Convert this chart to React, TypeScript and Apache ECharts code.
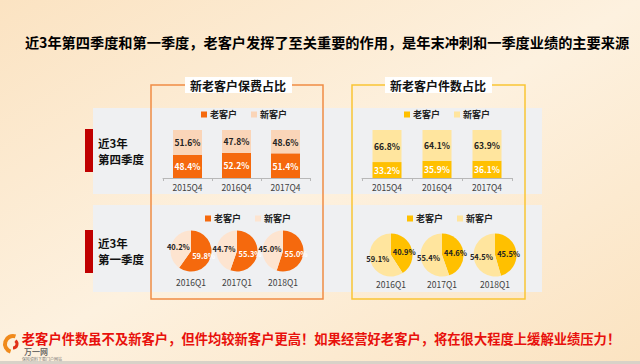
import React, { useEffect, useRef } from "react";
import * as echarts from "echarts";

const quartersQ4 = ["2015Q4", "2016Q4", "2017Q4"];
const premiumOldQ4 = [48.4, 52.2, 51.4];
const premiumNewQ4 = [51.6, 47.8, 48.6];
const countOldQ4 = [33.2, 35.9, 36.1];
const countNewQ4 = [66.8, 64.1, 63.9];

const quartersQ1 = ["2016Q1", "2017Q1", "2018Q1"];
const premiumOldQ1 = [59.8, 55.3, 55.0];
const premiumNewQ1 = [40.2, 44.7, 45.0];
const countOldQ1 = [40.9, 44.6, 45.5];
const countNewQ1 = [59.1, 55.4, 54.5];

const seriesNames = ["老客户", "新客户"];
const mainTitle = "近3年第四季度和第一季度，老客户发挥了至关重要的作用，是年末冲刺和一季度业绩的主要来源";
const footText = "老客户件数虽不及新客户，但件均较新客户更高！如果经营好老客户，将在很大程度上缓解业绩压力！";
const panelTitles = ["新老客户保费占比", "新老客户件数占比"];
const rowLabels = [["近3年", "第四季度"], ["近3年", "第一季度"]];

const FONT = '"Noto Sans CJK SC", "Noto Sans", sans-serif';
const ORANGE = "#F5690D";
const PEACH = "#FAD5B8";
const PEACH_PIE = "#FDE4D0";
const GOLD = "#FFC000";
const LIGHT_GOLD = "#FFE59E";
const pct = (v: number) => v.toFixed(1) + "%";

export default function App() {
  const ref = useRef<HTMLDivElement>(null);
  useEffect(() => {
    if (!ref.current) return;
    const chart = echarts.init(ref.current, null, { renderer: "svg" });

    const barGrid = (i: number) => ({
      type: "category",
      gridIndex: i,
      data: quartersQ4,
      axisLine: { lineStyle: { color: "#b8b8b8" } },
      axisTick: { show: true, length: 3, lineStyle: { color: "#b8b8b8" } },
      axisLabel: { fontSize: 8.5, color: "#404040", margin: 5, fontFamily: FONT },
    });
    const valAxis = (i: number) => ({
      type: "value",
      gridIndex: i,
      min: 0,
      max: 100,
      show: false,
    });
    const barLabel = (color: string) => ({
      show: true,
      position: "inside",
      color,
      fontSize: 8.5,
      fontWeight: "bold",
      fontFamily: FONT,
      formatter: (p: any) => pct(p.value),
    });
    const barSeries = (i: number, old: number[], nw: number[], c1: string, c2: string) => [
      {
        type: "bar",
        name: seriesNames[0],
        xAxisIndex: i,
        yAxisIndex: i,
        stack: "s" + i,
        data: old,
        barWidth: 29,
        itemStyle: { color: c1 },
        label: barLabel("#ffffff"),
      },
      {
        type: "bar",
        name: seriesNames[1],
        xAxisIndex: i,
        yAxisIndex: i,
        stack: "s" + i,
        data: nw,
        barWidth: 29,
        itemStyle: { color: c2 },
        label: barLabel("#222222"),
      },
    ];

    const pieSeries = (
      centers: number[][],
      r: number,
      old: number[],
      nw: number[],
      c1: string,
      c2: string,
      oldLabelColor: string
    ) =>
      old.map((v, k) => ({
        type: "pie",
        center: centers[k],
        radius: r,
        startAngle: 90,
        clockwise: true,
        silent: true,
        avoidLabelOverlap: false,
        labelLayout: { hideOverlap: false },
        label: {
          show: true,
          position: "inside",
          fontSize: 7.5,
          fontWeight: "bold",
          fontFamily: FONT,
          formatter: (p: any) => pct(p.value),
        },
        labelLine: { show: false },
        data: [
          { name: seriesNames[0], value: v, itemStyle: { color: c1 }, label: { color: oldLabelColor } },
          { name: seriesNames[1], value: nw[k], itemStyle: { color: c2 }, label: { color: "#222222" } },
        ],
      }));

    const legend = (left: number, top: number, c1: string, c2: string) => ({
      left,
      top,
      padding: 0,
      itemWidth: 6,
      itemHeight: 6,
      itemGap: 14,
      icon: "rect",
      selectedMode: false,
      textStyle: { fontSize: 9, fontWeight: "bold", color: "#222", fontFamily: FONT, padding: [0, 0, 0, -2] },
      data: [
        { name: seriesNames[0], itemStyle: { color: c1 } },
        { name: seriesNames[1], itemStyle: { color: c2 } },
      ],
    });

    const leftPieCenters = [[191, 251], [237, 251], [283, 251]];
    const rightPieCenters = [[391, 255], [442, 255], [495, 255]];

    const txt = (x: number, y: number, text: string, size: number, extra: any = {}) => ({
      type: "text",
      x,
      y,
      style: { text, fontSize: size, fontFamily: FONT, verticalAlign: "middle", ...extra },
    });

    const graphics: any[] = [
      {
        type: "rect",
        shape: { x: 0, y: 0, width: 640, height: 364 },
        style: {
          fill: new echarts.graphic.LinearGradient(0, 0, 1, 1, [
            { offset: 0, color: "#FBE3C2" },
            { offset: 0.5, color: "#FDF1DF" },
            { offset: 1, color: "#FBE3C1" },
          ]),
        },
        z: -10,
      },
      { type: "rect", shape: { x: 0, y: 361, width: 640, height: 3 }, style: { fill: "#d8d2c8" }, z: -9 },
      { type: "rect", shape: { x: 93, y: 108, width: 449, height: 86 }, style: { fill: "#EFF0F2" }, z: -8 },
      { type: "rect", shape: { x: 93, y: 205, width: 449, height: 87 }, style: { fill: "#EFF0F2" }, z: -8 },
      {
        type: "rect",
        shape: { x: 151, y: 85, width: 172, height: 214 },
        style: { fill: "none", stroke: "#F08C44", lineWidth: 1.5 },
        z: -7,
      },
      {
        type: "rect",
        shape: { x: 352, y: 85, width: 173, height: 214 },
        style: { fill: "none", stroke: "#F9C535", lineWidth: 1.5 },
        z: -7,
      },
      { type: "rect", shape: { x: 185, y: 77, width: 107, height: 16 }, style: { fill: "#ffffff" }, z: -6 },
      { type: "rect", shape: { x: 385, y: 77, width: 107, height: 16 }, style: { fill: "#ffffff" }, z: -6 },
      txt(238, 85, panelTitles[0], 12, { fontWeight: "bold", fill: "#111", align: "center" }),
      txt(438, 85, panelTitles[1], 12, { fontWeight: "bold", fill: "#111", align: "center" }),
      { type: "rect", shape: { x: 85, y: 129, width: 8, height: 43 }, style: { fill: "#C00000" } },
      { type: "rect", shape: { x: 85, y: 230, width: 8, height: 43 }, style: { fill: "#C00000" } },
      txt(98, 142.5, rowLabels[0][0], 11.5, { fontWeight: "bold", fill: "#111", lineHeight: 12 }),
      txt(98, 158.5, rowLabels[0][1], 11.5, { fontWeight: "bold", fill: "#111", lineHeight: 12 }),
      txt(98, 242.5, rowLabels[1][0], 11.5, { fontWeight: "bold", fill: "#111", lineHeight: 12 }),
      txt(98, 258.5, rowLabels[1][1], 11.5, { fontWeight: "bold", fill: "#111", lineHeight: 12 }),
      txt(327, 42, mainTitle, 14.2, { fontWeight: "bold", fill: "#000", align: "center" }),
      txt(321, 338, footText, 13.3, { fontWeight: "bold", fill: "#E8110C", align: "center" }),
      // logo
      {
        type: "arc",
        shape: { cx: 13, cy: 344, r: 8, startAngle: Math.PI * 0.6, endAngle: Math.PI * 1.6 },
        style: { stroke: "#F08A1C", lineWidth: 4, fill: "none" },
      },
      {
        type: "arc",
        shape: { cx: 13, cy: 344, r: 4, startAngle: Math.PI * 1.7, endAngle: Math.PI * 0.5 },
        style: { stroke: "#E0301A", lineWidth: 3, fill: "none" },
      },
      txt(24, 351.5, "万一网", 8, { fontWeight: "bold", fill: "#555", opacity: 0.85 }),
      txt(22, 359, "保险资料下载门户网站", 4, { fill: "#777" }),
    ];

    quartersQ1.forEach((q, k) => {
      graphics.push(txt(leftPieCenters[k][0], 282, q, 8.5, { fill: "#404040", align: "center" }));
      graphics.push(txt(rightPieCenters[k][0], 284, q, 8.5, { fill: "#404040", align: "center" }));
    });

    const option: any = {
      animation: false,
      textStyle: { fontFamily: FONT },
      graphic: graphics,
      legend: [
        legend(201, 110, ORANGE, PEACH),
        legend(404, 110, GOLD, LIGHT_GOLD),
        legend(205, 214, ORANGE, PEACH_PIE),
        legend(407, 214, GOLD, LIGHT_GOLD),
      ],
      grid: [
        { left: 163, top: 130, width: 147, height: 48 },
        { left: 362, top: 130, width: 150, height: 48 },
      ],
      xAxis: [barGrid(0), barGrid(1)],
      yAxis: [valAxis(0), valAxis(1)],
      series: [
        ...barSeries(0, premiumOldQ4, premiumNewQ4, ORANGE, PEACH),
        ...barSeries(1, countOldQ4, countNewQ4, GOLD, LIGHT_GOLD),
        ...pieSeries(leftPieCenters, 20.5, premiumOldQ1, premiumNewQ1, ORANGE, PEACH_PIE, "#ffffff"),
        ...pieSeries(rightPieCenters, 21.5, countOldQ1, countNewQ1, GOLD, LIGHT_GOLD, "#222222"),
      ],
    };
    chart.setOption(option);
    return () => chart.dispose();
  }, []);

  return (
    <div
      ref={ref}
      style={{ position: "absolute", left: 0, top: 0, width: 640, height: 364 }}
    />
  );
}
